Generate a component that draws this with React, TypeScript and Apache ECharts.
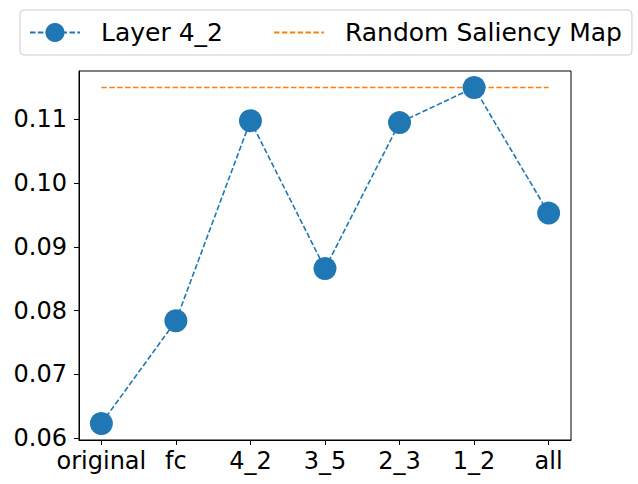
import React, { useEffect, useRef } from "react";
import * as echarts from "echarts";

const categories = ["original", "fc", "4_2", "3_5", "2_3", "1_2", "all"];
const layerValues = [0.0623, 0.0784, 0.1098, 0.0866, 0.1095, 0.115, 0.0953];
const randomSaliency = 0.115;
const yTicks = [0.06, 0.07, 0.08, 0.09, 0.1, 0.11];

export default function App() {
  const ref = useRef<HTMLDivElement>(null);
  useEffect(() => {
    if (!ref.current) return;
    const chart = echarts.init(ref.current, null, { renderer: "svg" });
    const font = "DejaVu Sans";
    const xIdx = categories.map((_, i) => i);
    chart.setOption({
      animation: false,
      backgroundColor: "#ffffff",
      textStyle: { fontFamily: font },
      legend: {
        left: 20,
        top: 10,
        padding: [10, 10, 10, 9],
        itemGap: 50,
        itemWidth: 50,
        itemHeight: 24,
        borderColor: "#cccccc",
        borderWidth: 1,
        borderRadius: 4,
        backgroundColor: "#ffffff",
        textStyle: { fontSize: 25, color: "#000", fontFamily: font, padding: [0, 0, 0, 16] },
        data: [
          { name: "Layer 4_2" },
          { name: "Random Saliency Map", itemStyle: { opacity: 0 } },
        ],
      },
      grid: {
        left: 79,
        right: 67,
        top: 71,
        bottom: 44,
        show: true,
        borderColor: "#000",
        borderWidth: 1,
        backgroundColor: "transparent",
      },
      xAxis: {
        type: "value",
        min: -0.3,
        max: 6.3,
        splitLine: { show: false },
        axisLine: { show: true, onZero: false, lineStyle: { color: "#000", width: 1 } },
        axisTick: { show: true, length: 5, lineStyle: { color: "#000" }, customValues: xIdx },
        axisLabel: {
          customValues: xIdx,
          formatter: (v: number) => categories[Math.round(v)] ?? "",
          fontSize: 24,
          color: "#000",
          fontFamily: font,
          margin: 9,
        },
      },
      yAxis: {
        type: "value",
        min: 0.0597,
        max: 0.1176,
        splitLine: { show: false },
        axisLine: { show: true, onZero: false, lineStyle: { color: "#000", width: 1 } },
        axisTick: { show: true, length: 5, lineStyle: { color: "#000" }, customValues: yTicks },
        axisLabel: {
          customValues: yTicks,
          formatter: (v: number) => v.toFixed(2),
          fontSize: 24,
          color: "#000",
          fontFamily: font,
          margin: 12,
        },
      },
      series: [
        {
          name: "Layer 4_2",
          type: "line",
          data: layerValues.map((v, i) => [i, v]),
          symbol: "circle",
          symbolSize: 23,
          showAllSymbol: true,
          itemStyle: { color: "#1f77b4" },
          lineStyle: { color: "#1f77b4", width: 1.6, type: [5.5, 2.4] },
          z: 3,
        },
        {
          name: "Random Saliency Map",
          type: "line",
          data: [
            [0, randomSaliency],
            [categories.length - 1, randomSaliency],
          ],
          symbol: "none",
          itemStyle: { color: "#ff7f0e" },
          lineStyle: { color: "#ff7f0e", width: 1.6, type: [5.5, 2.4] },
          z: 2,
        },
      ],
    });
    return () => chart.dispose();
  }, []);
  return <div ref={ref} style={{ width: 638, height: 484, position: "absolute", left: 0, top: 0 }} />;
}
